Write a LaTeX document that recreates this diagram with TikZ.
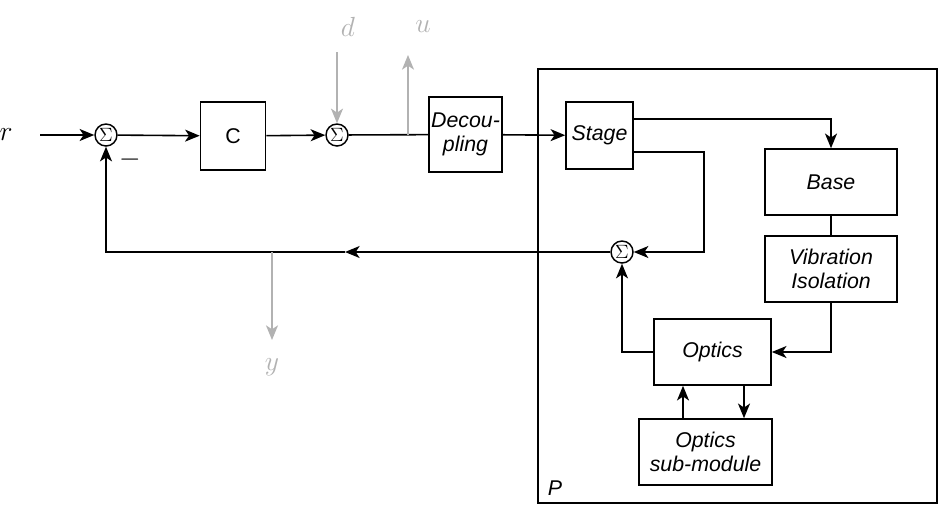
\documentclass[tikz,border=0pt]{standalone}
\usepackage{amsmath}
\usepackage{fontspec}
\setsansfont{Liberation Sans}
\usetikzlibrary{arrows.meta}
\tikzstyle{block}=[draw, line width=1.2pt, font=\sffamily\itshape\fontsize{16}{18}\selectfont, align=center, inner sep=0pt]
\tikzstyle{sum}=[draw, circle, line width=1.1pt, minimum size=16.5pt, inner sep=0pt, font=\Large]
\tikzstyle{sig}=[-{Stealth[length=11pt,width=9pt,inset=3pt]}, line width=1.2pt]
\tikzstyle{gsig}=[-{Stealth[length=11pt,width=9pt,inset=3pt]}, line width=1.2pt, gray!60]

\begin{document}
\begin{tikzpicture}[x=0.75pt, y=-0.75pt]
		   \useasboundingbox (0,0) rectangle (941,508);
		   \begin{scope}
			   \node (r) at (6, 135) {\huge $r$};
			   \coordinate (rin) at (40, 135);
			   \node (s1) at (106, 135) [sum] {$\Sigma$};
			   \node (minus) at (130, 160) {\huge $-$};
			   \node (C) at (233, 136) [block, minimum width=48.75pt, minimum height=51pt, font=\sffamily\fontsize{16}{18}\selectfont] {C};
			   \node (s2) at (337, 135) [sum] {$\Sigma$};
			   \node (d) at (348, 27) {\huge \color{gray!60}$d$};
			   \coordinate (din) at (337, 52);
			   \node (u) at (423, 27) {\huge \color{gray!60}$u$};
			   \coordinate (utap) at (408, 135);
			   \coordinate (uout) at (408, 55);
			   \node (dec) at (465.5, 134.5) [block, minimum width=54.75pt, minimum height=56.25pt] {Decou-\\pling};

			   \node (P) at (737.5, 286) [draw, line width=1.2pt, minimum width=299.25pt, minimum height=325.5pt] {};
			   \node (Plabel) at (555, 488) {\sffamily\itshape\fontsize{16}{18}\selectfont P};
			   \node (stage) at (599.5, 135.5) [block, minimum width=50.25pt, minimum height=50.25pt] {Stage};
			   \node (base) at (831, 182) [block, minimum width=99pt, minimum height=49.5pt] {Base};
			   \node (vib) at (831, 269) [block, minimum width=99pt, minimum height=49.5pt] {Vibration\\Isolation};
			   \node (s3) at (622, 252) [sum] {$\Sigma$};
			   \node (opt) at (712.5, 352) [block, minimum width=87.75pt, minimum height=49.5pt] {Optics};
			   \node (sub) at (705.5, 452) [block, minimum width=99.75pt, minimum height=49.5pt] {Optics\\sub-module};

			   \coordinate (ytap) at (272, 252);
			   \coordinate (yout) at (272, 340);
			   \node (y) at (272, 367) {\huge \color{gray!60}$y$};
			   \coordinate (fbmid) at (345, 252);
		   \end{scope}
		   \begin{scope}
			   \draw [sig] (rin) -- (s1);
			   \draw [sig] (s1) -- (C);
			   \draw [sig] (C) -- (s2);
			   \draw [gsig] (din) -- (s2);
			   \draw [line width=1.2pt] (s2) -- (dec);
			   \draw [gsig] (utap) -- (uout);
			   \draw [sig] (dec) -- (stage);

			   \draw [sig] (stage.east |- 0,119) -| (base);
			   \draw [line width=1.2pt] (base) -- (vib);
			   \draw [sig] (vib.south) |- (opt.east);
			   \draw [sig] (stage.east |- 0,152) -| (704, 252) -- (s3);
			   \draw [sig] (opt.west) -| (s3);
			   \draw [sig] (sub.north -| 683,0) -- (opt.south -| 683,0);
			   \draw [sig] (opt.south -| 744,0) -- (sub.north -| 744,0);

			   \draw [sig] (s3) -- (fbmid);
			   \draw [sig] (fbmid) -| (s1);
			   \draw [gsig] (ytap) -- (yout);
		   \end{scope}
	   \end{tikzpicture}
\end{document}
